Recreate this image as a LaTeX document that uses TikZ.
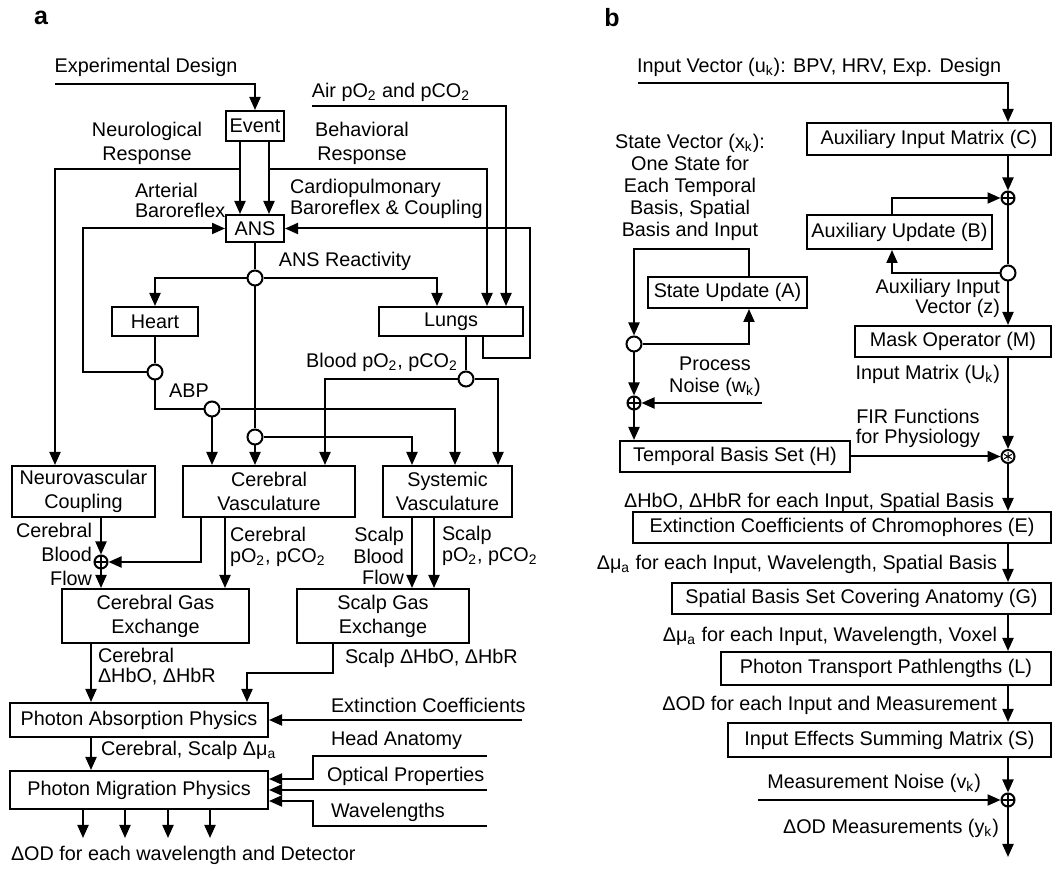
\documentclass[tikz,border=0pt]{standalone}
\usepackage{fontspec}
\setmainfont{Liberation Sans}
\usetikzlibrary{arrows.meta}
\newcommand\fs{\fontsize{9.9}{12}\selectfont}
\newcommand\sbs[1]{\textsubscript{#1}}
% box from pixel corners (x1,y1)-(x2,y2)
\newcommand\bx[6]{\node[box,minimum width={(#4-#2)*0.5pt},minimum height={(#5-#3)*0.5pt}] (#1) at ({(#2+#4)/2},{(#3+#5)/2}) {#6};}
\begin{document}
\begin{tikzpicture}[x=0.5pt,y=-0.5pt,line width=1pt,
  box/.style={draw,fill=white,inner sep=0pt,align=center,font=\fs},
  txt/.style={inner sep=0pt,font=\fs},
  arr/.style={-{Triangle[length=6.5pt,width=5.5pt]}},
  junc/.style={circle,draw,fill=white,inner sep=0pt,minimum size=7.5pt},
  sumn/.style={circle,draw,fill=white,inner sep=0pt,minimum size=6.5pt,
    path picture={\draw[line width=0.6pt] (path picture bounding box.north)--(path picture bounding box.south) (path picture bounding box.west)--(path picture bounding box.east);}},
  starn/.style={circle,draw,fill=white,inner sep=0pt,minimum size=6.5pt,
    path picture={\draw[line width=0.5pt] (path picture bounding box.center) ++(90:2.2pt) -- ++(270:4.4pt) (path picture bounding box.center) ++(30:2.2pt) -- ++(210:4.4pt) (path picture bounding box.center) ++(150:2.2pt) -- ++(330:4.4pt);}},
  lbl/.style={inner sep=0pt,font=\fontsize{12.5}{14}\selectfont\bfseries}]
\fill[white] (0,0) rectangle (1057,871);
\useasboundingbox (0,0) rectangle (1057,871);

%% ---------------- Panel a ----------------
\node[lbl] (la) at (41,18) {a};
\node[txt] (ted) at (146,67) {Experimental Design};
\coordinate (edin) at (55,84);
\bx{event}{226}{111}{284}{141}{Event}
\node[txt] (tair) at (391,92) {Air pO\sbs{2} and pCO\sbs{2}};
\coordinate (airin) at (312,106);
\node[txt,align=center,font=\fontsize{9.9}{12}\selectfont] (tneu) at (147,143) {Neurological\\Response};
\node[txt,align=center,font=\fontsize{9.9}{12}\selectfont] (tbeh) at (362,143) {Behavioral\\Response};
\bx{ans}{226}{215}{284}{242}{ANS}
\node[txt,align=left,anchor=west,font=\fontsize{9.9}{10}\selectfont] (tart) at (134,200) {Arterial\\Baroreflex};
\node[txt,align=left,anchor=west,font=\fontsize{9.9}{10.5}\selectfont] (tcar) at (289,199) {Cardiopulmonary\\Baroreflex \& Coupling};
\node[txt] (tansr) at (345,261) {ANS Reactivity};
\node[junc] (jr) at (255,278) {};
\bx{heart}{112}{307}{198}{336}{Heart}
\bx{lungs}{379}{307}{523}{336}{Lungs}
\node[junc] (jh) at (155,372) {};
\node[junc] (jl) at (466,379) {};
\node[txt] (tblood) at (382,362) {Blood pO\sbs{2}, pCO\sbs{2}};
\node[txt] (tabp) at (189,391) {ABP};
\node[junc] (ja) at (212,409) {};
\node[junc] (jc) at (255,437) {};
\bx{nvc}{12}{466}{155}{517}{Neurovascular\\Coupling}
\bx{cv}{183}{466}{355}{517}{Cerebral\\Vasculature}
\bx{sv}{383}{466}{512}{517}{Systemic\\Vasculature}
\node[sumn] (pa) at (101,562) {};
\node[txt,align=right,anchor=east,font=\fontsize{9.9}{12}\selectfont] (tcbf) at (93,554) {Cerebral\\Blood\\Flow};
\node[txt,align=left,anchor=west,font=\fontsize{9.9}{10.5}\selectfont] (tcpo) at (229,547) {Cerebral\\pO\sbs{2}, pCO\sbs{2}};
\node[txt,align=right,anchor=east,font=\fontsize{9.9}{10.8}\selectfont] (tsbf) at (405,556) {Scalp\\Blood\\Flow};
\node[txt,align=left,anchor=west,font=\fontsize{9.9}{10.8}\selectfont] (tspo) at (441,546) {Scalp\\pO\sbs{2}, pCO\sbs{2}};
\bx{cge}{62}{589}{249}{643}{Cerebral Gas\\Exchange}
\bx{sge}{297}{589}{469}{643}{Scalp Gas\\Exchange}
\node[txt,align=left,anchor=west,font=\fontsize{9.9}{10}\selectfont] (tchb) at (97,667) {Cerebral\\ΔHbO, ΔHbR};
\node[txt,anchor=west] (tshb) at (344,658) {Scalp ΔHbO, ΔHbR};
\bx{pap}{10}{703}{268}{737}{Photon Absorption Physics}
\node[txt,anchor=west] (text) at (330,705) {Extinction Coefficients};
\coordinate (extin) at (522,720);
\node[txt,anchor=west] (tmua) at (100,750) {Cerebral, Scalp Δμ\sbs{a}};
\bx{pmp}{10}{771}{268}{809}{Photon Migration Physics}
\node[txt,anchor=west] (thead) at (330,740) {Head Anatomy};
\node[txt,anchor=west] (topt) at (326,776) {Optical Properties};
\node[txt,anchor=west] (twav) at (330,812) {Wavelengths};
\coordinate (headin) at (487,756);
\coordinate (optin) at (487,790);
\coordinate (wavein) at (487,826);
\node[txt,anchor=west] (tod) at (10,855) {ΔOD for each wavelength and Detector};
\coordinate (nb) at (240,169);
\coordinate (bb) at (269,169);

\draw[arr] (edin) -| (event.north);
\draw[arr] (event.south -| nb) -- (ans.north -| nb);
\draw[arr] (event.south -| bb) -- (ans.north -| bb);
\draw[arr] (nb) -| (nvc.north -| 55,0);
\draw[arr] (bb) -| (lungs.north -| 487,0);
\draw[arr] (airin) -| (lungs.north -| 506,0);
\draw[arr] (jh.west) -- (jh.west -| 83,0) |- (ans.west);
\draw[arr] (lungs.south -| 483,0) |- (530,358) |- (ans.east);
\draw (ans.south) -- (jr.north);
\draw[arr] (jr.west) -| (heart.north);
\draw[arr] (jr.east) -| (lungs.north -| 437,0);
\draw (jr.south) -- (jc.north);
\draw[arr] (jc.south) -- (cv.north -| jc);
\draw[arr] (jc.east) -| (sv.north -| 412,0);
\draw (heart.south) -- (jh.north);
\draw (jh.south) |- (ja.west);
\draw[arr] (ja.south) -- (cv.north -| ja);
\draw[arr] (ja.east) -| (sv.north -| 455,0);
\draw (lungs.south -| jl) -- (jl.north);
\draw[arr] (jl.west) -| (cv.north -| 325,0);
\draw[arr] (jl.east) -| (sv.north -| 498,0);
\draw[arr] (nvc.south -| pa) -- (pa.north);
\draw[arr] (pa.south) -- (cge.north -| pa);
\draw[arr] (cv.south -| 201,0) |- (pa.east);
\draw[arr] (cv.south -| 225,0) -- (cge.north -| 225,0);
\draw[arr] (sv.south -| 412,0) -- (sge.north -| 412,0);
\draw[arr] (sv.south -| 434,0) -- (sge.north -| 434,0);
\draw[arr] (cge.south -| 91,0) -- (pap.north -| 91,0);
\draw[arr] (sge.south -| 333,0) -- (333,673) -| (pap.north -| 247,0);
\draw[arr] (extin) -- (pap.east);
\draw[arr] (pap.south -| 91,0) -- (pmp.north -| 91,0);
\draw[arr] (headin) -- (313,756) |- ([yshift=5.5pt]pmp.east);
\draw[arr] (optin) -- (pmp.east);
\draw[arr] (wavein) -- (313,826) |- ([yshift=-5.5pt]pmp.east);
\foreach \x in {83,125,168,210} \draw[arr] (pmp.south -| \x,0) -- (\x,838);

%% ---------------- Panel b ----------------
\node[lbl] (lb) at (612,18) {b};
\node[txt,anchor=west] (tuin) at (636,67) {Input Vector (u\sbs{k}): BPV, HRV, Exp. Design};
\coordinate (uin) at (638,83);
\bx{C}{807}{123}{1051}{155}{Auxiliary Input Matrix (C)}
\node[sumn] (pb1) at (1008,198) {};
\bx{B}{807}{215}{992}{249}{Auxiliary Update (B)}
\node[junc] (jz) at (1008,273) {};
\node[txt,align=right,anchor=east,font=\fontsize{9.9}{10}\selectfont] (taiv) at (1001,298) {Auxiliary Input\\Vector (z)};
\bx{M}{855}{326}{1051}{357}{Mask Operator (M)}
\node[txt,anchor=east] (tim) at (1001,374) {Input Matrix (U\sbs{k})};
\node[txt,align=center,font=\fontsize{9.9}{10}\selectfont] (tfir) at (918,428) {FIR Functions\\for Physiology};
\node[txt,align=center,font=\fontsize{9.9}{11}\selectfont] (tsv) at (690,187) {State Vector (x\sbs{k}):\\One State for\\Each Temporal\\Basis, Spatial\\Basis and Input};
\bx{A}{648}{277}{807}{308}{State Update (A)}
\node[junc] (js) at (634,344) {};
\node[sumn] (pb3) at (634,403) {};
\node[txt,align=center,font=\fontsize{9.9}{11}\selectfont] (tpn) at (715,377) {Process\\Noise (w\sbs{k})};
\coordinate (win) at (762,403);
\bx{H}{620}{441}{850}{472}{Temporal Basis Set (H)}
\node[starn] (st) at (1008,456.5) {};
\node[txt,anchor=east] (thb) at (995,502) {ΔHbO, ΔHbR for each Input, Spatial Basis};
\bx{E}{633}{512}{1051}{543}{Extinction Coefficients of Chromophores (E)}
\node[txt,anchor=east] (tm1) at (998,564) {Δμ\sbs{a} for each Input, Wavelength, Spatial Basis};
\bx{G}{672}{583}{1051}{614}{Spatial Basis Set Covering Anatomy (G)}
\node[txt,anchor=east] (tm2) at (998,636) {Δμ\sbs{a} for each Input, Wavelength, Voxel};
\bx{L}{721}{652}{1051}{685}{Photon Transport Pathlengths (L)}
\node[txt,anchor=east] (tod2) at (998,705) {ΔOD for each Input and Measurement};
\bx{S}{728}{723}{1051}{757}{Input Effects Summing Matrix (S)}
\node[txt,anchor=east] (tmn) at (982,783) {Measurement Noise (v\sbs{k})};
\node[sumn] (pb2) at (1008,800) {};
\coordinate (vin) at (758,800);
\node[txt,anchor=east] (tyk) at (1000,828) {ΔOD Measurements (y\sbs{k})};
\coordinate (yout) at (1008,857);

\draw[arr] (uin) -| (C.north -| pb1);
\draw[arr] (C.south -| pb1) -- (pb1.north);
\draw[arr] (B.north -| 892,0) |- (pb1.west);
\draw (pb1.south) -- (jz.north);
\draw[arr] (jz.west) -| (B.south -| 892,0);
\draw[arr] (jz.south) -- (M.north -| jz);
\draw[arr] (M.south -| st) -- (st.north);
\draw[arr] (H.east) -- (st.west);
\draw[arr] (st.south) -- (E.north -| st);
\draw[arr] (E.south -| st) -- (G.north -| st);
\draw[arr] (G.south -| st) -- (L.north -| st);
\draw[arr] (L.south -| st) -- (S.north -| st);
\draw[arr] (S.south -| st) -- (pb2.north);
\draw[arr] (vin) -- (pb2.west);
\draw[arr] (pb2.south) -- (yout);
\draw[arr] (A.north -| 749,0) -- (749,249) -| (js.north);
\draw[arr] (js.east) -| (A.south -| 749,0);
\draw[arr] (js.south) -- (pb3.north);
\draw[arr] (win) -- (pb3.east);
\draw[arr] (pb3.south) -- (H.north -| pb3);
\end{tikzpicture}
\end{document}
